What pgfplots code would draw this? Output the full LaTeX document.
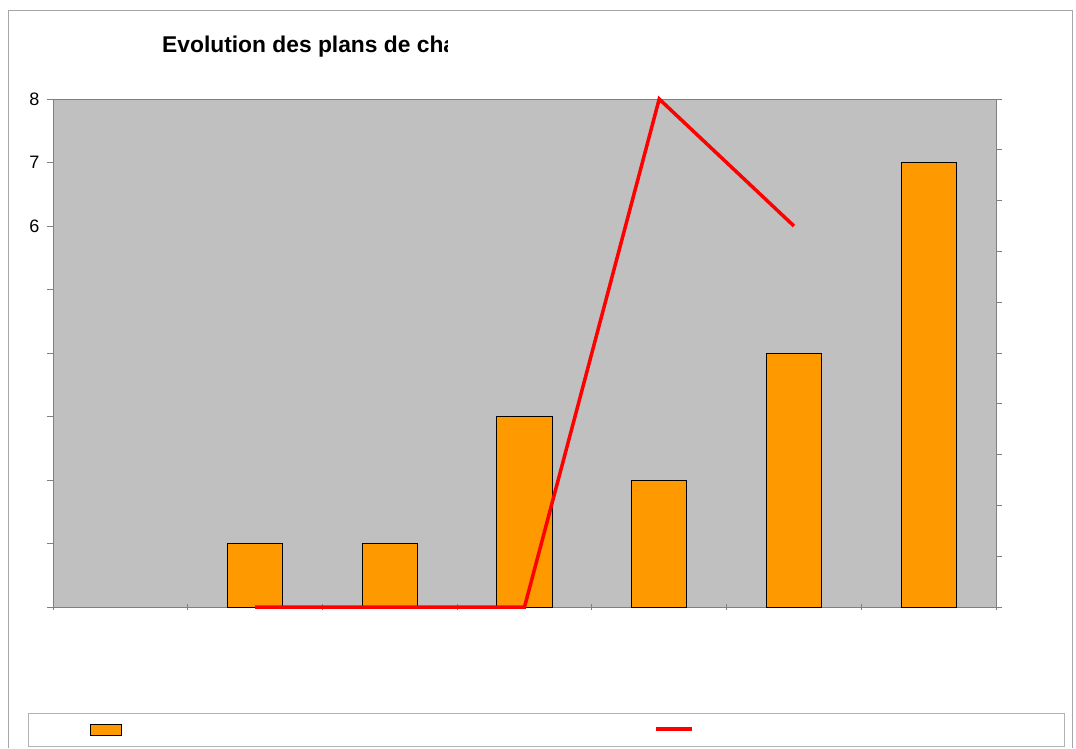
\documentclass[border=0pt]{standalone}
\usepackage{pgfplots}
\pgfplotsset{compat=1.18}
\usepackage{fontspec}
\setmainfont{Liberation Sans}
\definecolor{plotgray}{HTML}{C0C0C0}
\definecolor{barorange}{HTML}{FF9900}
\definecolor{axgray}{HTML}{808080}
\begin{document}
\begin{tikzpicture}[x=1pt,y=1pt]
\useasboundingbox (0,0) rectangle (1076,748);
\fill[white] (0,0) rectangle (1076,748);
\draw[axgray!70, line width=0.8pt] (8,0) -- (8,738) -- (1072,738) -- (1072,0);
\draw[axgray!60, line width=0.8pt, fill=white] (28,2) rectangle (1064,35);
\begin{scope}
\clip (0,600) rectangle (447,748);
\node[anchor=base west, font=\bfseries\fontsize{22.8}{26}\selectfont, inner sep=0pt] at (162,695) {Evolution des plans de cha};
\end{scope}
% secondary axis (right ticks)
\begin{axis}[
  at={(53pt,141pt)}, anchor=south west, scale only axis,
  width=943pt, height=508pt,
  xmin=-0.5, xmax=6.5, ymin=0, ymax=10,
  axis x line=none, axis y line*=right,
  ytick={0,...,10}, yticklabels={},
  axis line style={axgray, line width=0.8pt},
  tick style={axgray, line width=0.8pt},
  tick align=center, major tick length=11pt,
]
\addplot[draw=none] coordinates {(0,0)};
\end{axis}
\begin{axis}[
  at={(53pt,141pt)}, anchor=south west, scale only axis,
  width=943pt, height=508pt,
  xmin=-0.5, xmax=6.5, ymin=0, ymax=8,
  clip=false,
  axis background/.style={fill=plotgray},
  axis line style={axgray, line width=0.8pt},
  tick style={axgray, line width=0.8pt},
  tick pos=left,
  xtick={-0.5,0.5,...,6.5}, xticklabels={},
  xtick align=center,
  ytick={0,...,8}, yticklabels={,,,,,,6,7,8},
  ytick align=outside, major tick length=6pt,
  yticklabel style={font=\fontsize{18}{21}\selectfont, xshift=-4pt},
  /pgf/number format/assume math mode=true,
  bar width=0.41,
  legend columns=2,
  legend style={at={(0.039,-0.241)}, anchor=west, draw=none, fill=none, inner sep=0pt, nodes={inner sep=0pt},
    /tikz/every even column/.append style={column sep=531pt}},
]
\addplot[ybar, fill=barorange, draw=black, line width=0.8pt,
  legend image code/.code={\draw[fill=barorange, draw=black, line width=0.8pt] (0pt,-5.5pt) rectangle (31pt,5.5pt);}]
  coordinates {(1,1) (2,1) (3,3) (4,2) (5,4) (6,7)};
\addlegendentry{}
\addplot[red, line width=3.5pt, sharp plot, no marks,
  legend image code/.code={\draw[red, line width=4pt] (0pt,0pt) -- (36pt,0pt);}]
  coordinates {(1,0) (2,0) (3,0) (4,8) (5,6)};
\addlegendentry{}
\end{axis}
\end{tikzpicture}
\end{document}
